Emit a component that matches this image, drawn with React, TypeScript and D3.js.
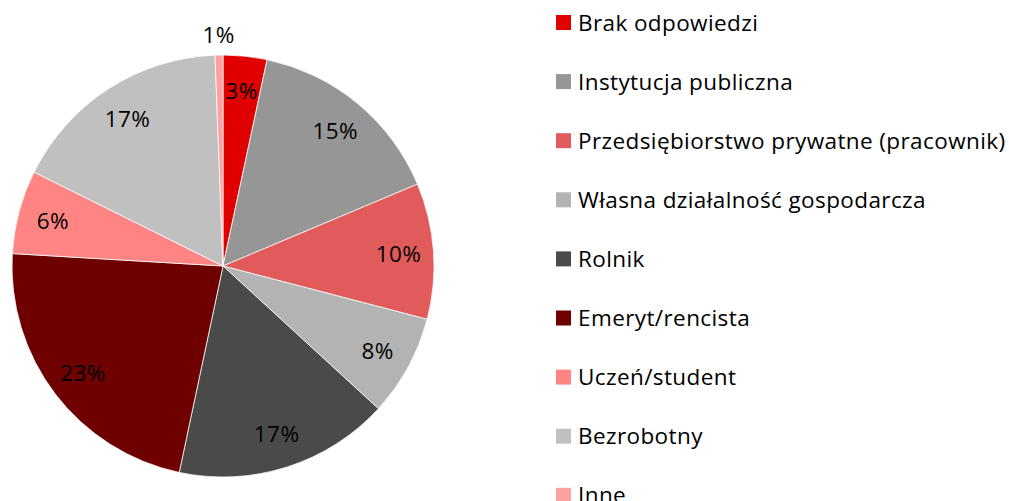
import React from "react";
import * as d3 from "d3";

const categories = [
  "Brak odpowiedzi",
  "Instytucja publiczna",
  "Przedsiębiorstwo prywatne (pracownik)",
  "Własna działalność gospodarcza",
  "Rolnik",
  "Emeryt/rencista",
  "Uczeń/student",
  "Bezrobotny",
  "Inne",
];
const values = [3.35, 15.3, 10.4, 7.75, 16.5, 22.6, 6.4, 17.05, 0.6];
const colors = [
  "#e00000",
  "#969696",
  "#e15b5b",
  "#b3b3b3",
  "#4a4a4a",
  "#6e0000",
  "#ff8585",
  "#c0c0c0",
  "#ffa0a0",
];

const W = 1009;
const H = 501;
const cx = 223;
const cy = 266;
const R = 211;
const labelR = 176;
const outsideR = 232;
const FONT = "'Open Sans', sans-serif";
const FS = 22.5;
const LS = 0.4;

export default function App() {
  const total = d3.sum(values);
  const pie = d3
    .pie<number>()
    .sort(null)
    .value((d) => d)
    .startAngle(0)
    .endAngle(2 * Math.PI);
  const arcs = pie(values);
  const arc = d3.arc<d3.PieArcDatum<number>>().innerRadius(0).outerRadius(R);

  return (
    <svg
      width={W}
      height={H}
      style={{ position: "absolute", left: 0, top: 0, background: "#fff" }}
      fontFamily={FONT}
    >
      <g transform={`translate(${cx},${cy})`}>
        {arcs.map((a, i) => (
          <path key={i} d={arc(a) || ""} fill={colors[i]} stroke="#fff" strokeWidth={0.75} />
        ))}
        {arcs.map((a, i) => {
          const mid = (a.startAngle + a.endAngle) / 2;
          const pct = (a.value / total) * 100;
          const r = pct < 2 ? outsideR : labelR;
          const x = Math.sin(mid) * r;
          const y = -Math.cos(mid) * r;
          return (
            <text
              key={i}
              x={x}
              y={y}
              textAnchor="middle"
              dominantBaseline="central"
              fontSize={FS}
              letterSpacing={LS}
              fill="#000"
            >
              {Math.round(pct)}%
            </text>
          );
        })}
      </g>
      <g>
        {categories.map((c, i) => {
          const y = 15 + i * 59.1;
          return (
            <g key={c}>
              <rect x={556} y={y} width={15} height={15} fill={colors[i]} />
              <text x={578} y={y + 15.5} fontSize={FS} letterSpacing={LS} fill="#000">
                {c}
              </text>
            </g>
          );
        })}
      </g>
    </svg>
  );
}
